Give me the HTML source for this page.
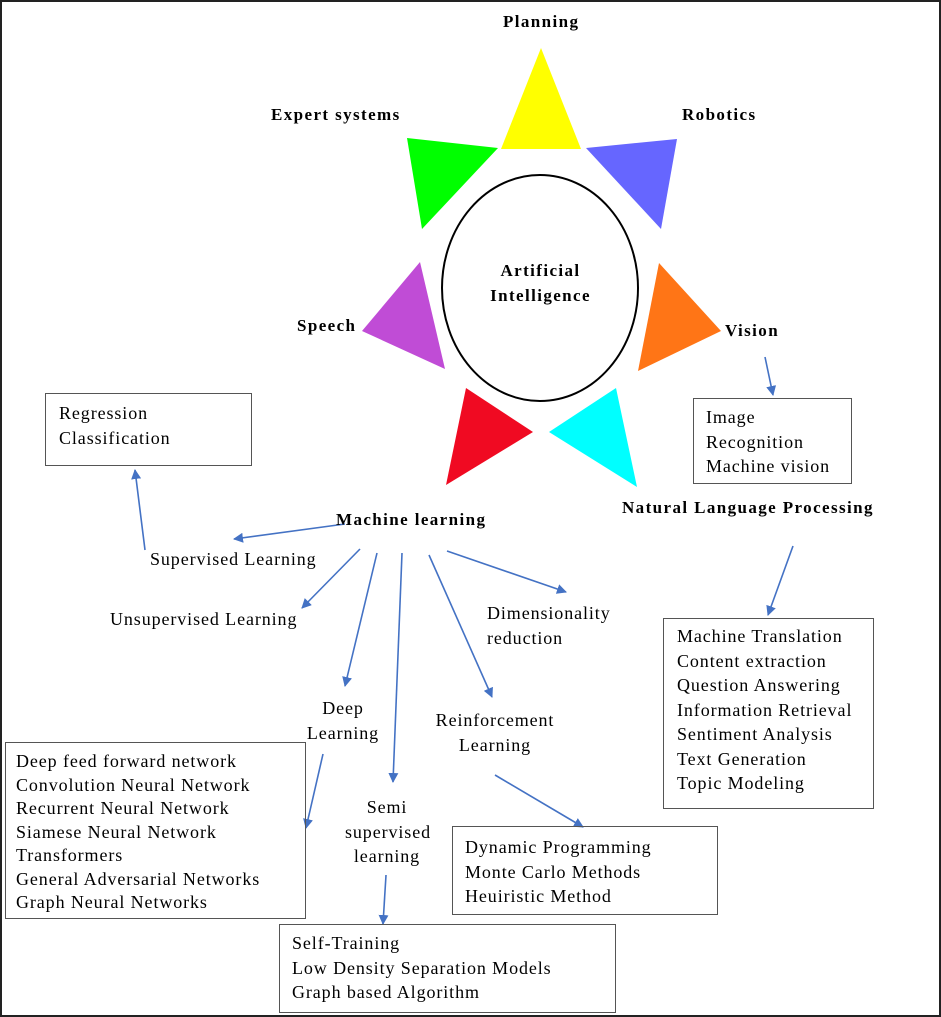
<!DOCTYPE html>
<html><head><style>
body{margin:0;background:#fff;}
.w{position:relative;width:941px;height:1017px;overflow:hidden;font-family:"Liberation Serif",serif;}
.t{position:absolute;font-size:18px;color:#000;white-space:nowrap;line-height:24.5px;letter-spacing:0.9px;}
.b{font-weight:bold;font-size:17px;letter-spacing:1.4px;}
.box{position:absolute;border:1.5px solid #555;box-sizing:border-box;}
</style></head><body><div class="w">
<svg width="941" height="1017" style="position:absolute;left:0;top:0">
<defs><marker id="a" markerWidth="10" markerHeight="10" refX="9" refY="5" orient="auto" markerUnits="userSpaceOnUse"><path d="M0,0L10,5L0,10z" fill="#4472C4"/></marker></defs>
<rect x="1" y="1" width="939" height="1015" fill="none" stroke="#222" stroke-width="2"/>
<polygon points="541,48 501,149 581,149" fill="#ffff00"/>
<polygon points="407,138 498,148 422,229" fill="#00ff00"/>
<polygon points="586,148 677,139 661,229" fill="#6666ff"/>
<polygon points="420,262 445,369 362,331" fill="#c04cd6"/>
<polygon points="659,263 721,331 638,371" fill="#ff7516"/>
<polygon points="466,388 533,432 446,485" fill="#f00a22"/>
<polygon points="616,388 637,487 549,432" fill="#00ffff"/>
<ellipse cx="540" cy="288" rx="98" ry="113" fill="none" stroke="#000" stroke-width="2"/>
<g stroke="#4472C4" stroke-width="1.6" marker-end="url(#a)">
<line x1="345" y1="524" x2="234" y2="539"/>
<line x1="145" y1="550" x2="135" y2="470"/>
<line x1="360" y1="549" x2="302" y2="608"/>
<line x1="377" y1="553" x2="345" y2="686"/>
<line x1="402" y1="553" x2="393" y2="782"/>
<line x1="429" y1="555" x2="492" y2="697"/>
<line x1="447" y1="551" x2="566" y2="592"/>
<line x1="323" y1="754" x2="306" y2="828"/>
<line x1="386" y1="875" x2="383" y2="924"/>
<line x1="495" y1="775" x2="583" y2="827"/>
<line x1="765" y1="357" x2="773" y2="395"/>
<line x1="793" y1="546" x2="768" y2="615"/>
</g>
</svg>
<div class="t b" style="left:503px;top:10px">Planning</div>
<div class="t b" style="left:271px;top:103px">Expert systems</div>
<div class="t b" style="left:682px;top:103px">Robotics</div>
<div class="t b" style="left:297px;top:314px">Speech</div>
<div class="t b" style="left:725px;top:319px">Vision</div>
<div class="t b" style="left:489px;top:258px;width:103px;text-align:center;line-height:25px">Artificial<br>Intelligence</div>
<div class="t b" style="left:336px;top:508px">Machine learning</div>
<div class="t b" style="left:622px;top:496px">Natural Language Processing</div>
<div class="t" style="left:150px;top:547px">Supervised Learning</div>
<div class="t" style="left:110px;top:607px">Unsupervised Learning</div>
<div class="t" style="left:487px;top:601px">Dimensionality<br>reduction</div>
<div class="t" style="left:305px;top:696px;width:76px;text-align:center">Deep<br>Learning</div>
<div class="t" style="left:434px;top:708px;width:122px;text-align:center">Reinforcement<br>Learning</div>
<div class="t" style="left:345px;top:795px;width:84px;text-align:center">Semi<br>supervised<br>learning</div>
<div class="box" style="left:45px;top:393px;width:207px;height:73px"></div>
<div class="t" style="left:59px;top:401px">Regression<br>Classification</div>
<div class="box" style="left:693px;top:398px;width:159px;height:86px"></div>
<div class="t" style="left:706px;top:405px">Image<br>Recognition<br>Machine vision</div>
<div class="box" style="left:663px;top:618px;width:211px;height:191px"></div>
<div class="t" style="left:677px;top:624px">Machine Translation<br>Content extraction<br>Question Answering<br>Information Retrieval<br>Sentiment Analysis<br>Text Generation<br>Topic Modeling</div>
<div class="box" style="left:5px;top:742px;width:301px;height:177px"></div>
<div class="t" style="left:16px;top:750px;line-height:23.5px">Deep feed forward network<br>Convolution Neural Network<br>Recurrent Neural Network<br>Siamese Neural Network<br>Transformers<br>General Adversarial Networks<br>Graph Neural Networks</div>
<div class="box" style="left:452px;top:826px;width:266px;height:89px"></div>
<div class="t" style="left:465px;top:835px">Dynamic Programming<br>Monte Carlo Methods<br>Heuiristic Method</div>
<div class="box" style="left:279px;top:924px;width:337px;height:89px"></div>
<div class="t" style="left:292px;top:931px">Self-Training<br>Low Density Separation Models<br>Graph based Algorithm</div>
</div></body></html>
